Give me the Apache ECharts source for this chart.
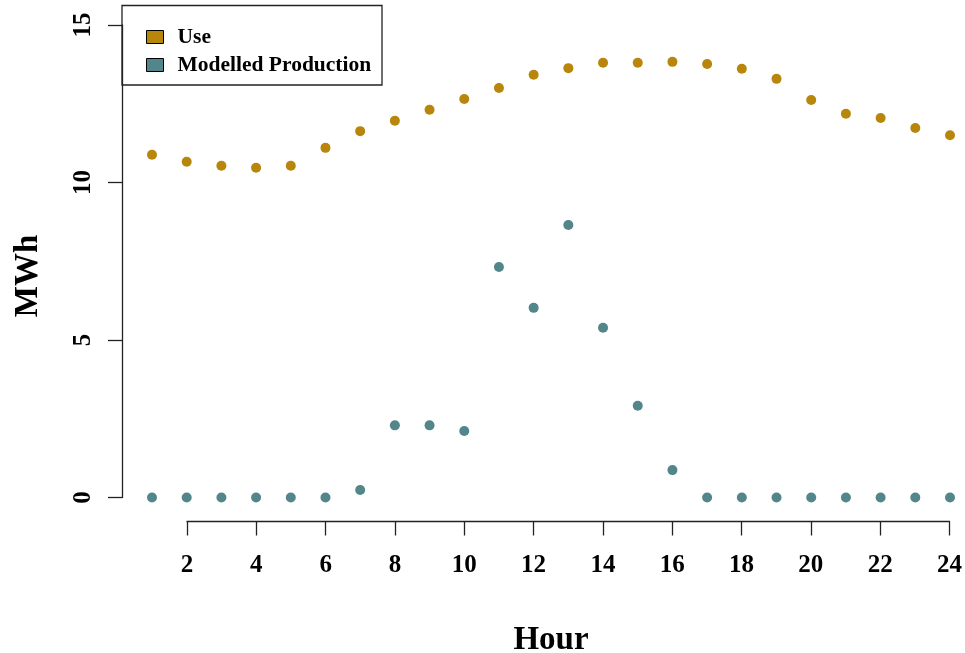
<!DOCTYPE html>
<html>
<head>
<meta charset="utf-8">
<script src="https://cdn.jsdelivr.net/npm/echarts@6/dist/echarts.min.js"></script>
<style>html,body{margin:0;padding:0;background:#fff;}#c{width:965px;height:653px;}</style>
</head>
<body>
<div id="c"></div>
<script>
const hours = [1,2,3,4,5,6,7,8,9,10,11,12,13,14,15,16,17,18,19,20,21,22,23,24];
const useValues = [10.88,10.66,10.53,10.47,10.53,11.10,11.63,11.96,12.31,12.65,13.00,13.42,13.63,13.80,13.80,13.83,13.76,13.61,13.29,12.62,12.18,12.05,11.73,11.50];
const productionValues = [0,0,0,0,0,0,0.24,2.29,2.29,2.11,7.32,6.02,8.65,5.39,2.91,0.87,0,0,0,0,0,0,0,0];
const xTicks = [2,4,6,8,10,12,14,16,18,20,22,24];
const yTicks = [0,5,10,15];
const seriesNames = ['Use','Modelled Production'];
const colors = ['#B8860B','#53868B'];
const xTitle = 'Hour';
const yTitle = 'MWh';

const font = 'Liberation Serif, Times New Roman, serif';
const chart = echarts.init(document.getElementById('c'), null, {renderer:'canvas'});
const pair = (xs, ys) => xs.map((x,i)=>[x, ys[i]]);
const axisLineStyle = {color:'#222', width:1.3};

chart.setOption({
  animation:false,
  backgroundColor:'#fff',
  grid:[
    {left:152, right:15, top:25, bottom:155.5, containLabel:false},
    {left:187, right:15, top:25, bottom:155.5, containLabel:false}
  ],
  xAxis:[
    {gridIndex:0, type:'value', min:1, max:24, show:false},
    {gridIndex:1, type:'value', min:2, max:24, interval:2, offset:24,
     axisLine:{show:true, onZero:false, lineStyle:axisLineStyle},
     axisTick:{show:true, length:14, lineStyle:axisLineStyle, customValues:xTicks},
     axisLabel:{show:true, margin:32, fontFamily:font, fontWeight:'bold', fontSize:25, color:'#000', customValues:xTicks},
     splitLine:{show:false}}
  ],
  yAxis:[
    {gridIndex:0, type:'value', min:0, max:15, interval:5, offset:30, position:'left',
     axisLine:{show:true, onZero:false, lineStyle:axisLineStyle},
     axisTick:{show:true, length:14, lineStyle:axisLineStyle, customValues:yTicks},
     axisLabel:{show:true, rotate:90, margin:26, fontFamily:font, fontWeight:'bold', fontSize:25, color:'#000', customValues:yTicks},
     splitLine:{show:false}},
    {gridIndex:1, type:'value', min:0, max:15, show:false}
  ],
  legend:{
    orient:'vertical', left:141, top:21, itemWidth:17, itemHeight:13, itemGap:6,
    icon:'rect',
    itemStyle:{borderColor:'#000', borderWidth:1},
    textStyle:{fontFamily:font, fontWeight:'bold', fontSize:21.5, color:'#000', padding:[0,0,0,9]},
    data:seriesNames
  },
  graphic:[
    {type:'rect', shape:{x:122, y:5.5, width:260, height:79.5}, style:{fill:'none', stroke:'#222', lineWidth:1.3}, silent:true},
    {type:'text', x:551, y:640, style:{text:xTitle, font:'bold 33px '+font, fill:'#000', textAlign:'center', textVerticalAlign:'middle'}},
    {type:'text', x:28, y:276, rotation:Math.PI/2, style:{text:yTitle, font:'bold 33px '+font, fill:'#000', textAlign:'center', textVerticalAlign:'middle'}}
  ],
  series:[
    {name:seriesNames[0], type:'scatter', xAxisIndex:0, yAxisIndex:0, data:pair(hours,useValues), symbol:'circle', symbolSize:10, itemStyle:{color:colors[0], opacity:1}},
    {name:seriesNames[1], type:'scatter', xAxisIndex:0, yAxisIndex:0, data:pair(hours,productionValues), symbol:'circle', symbolSize:10, itemStyle:{color:colors[1], opacity:1}}
  ]
});
</script>
</body>
</html>
